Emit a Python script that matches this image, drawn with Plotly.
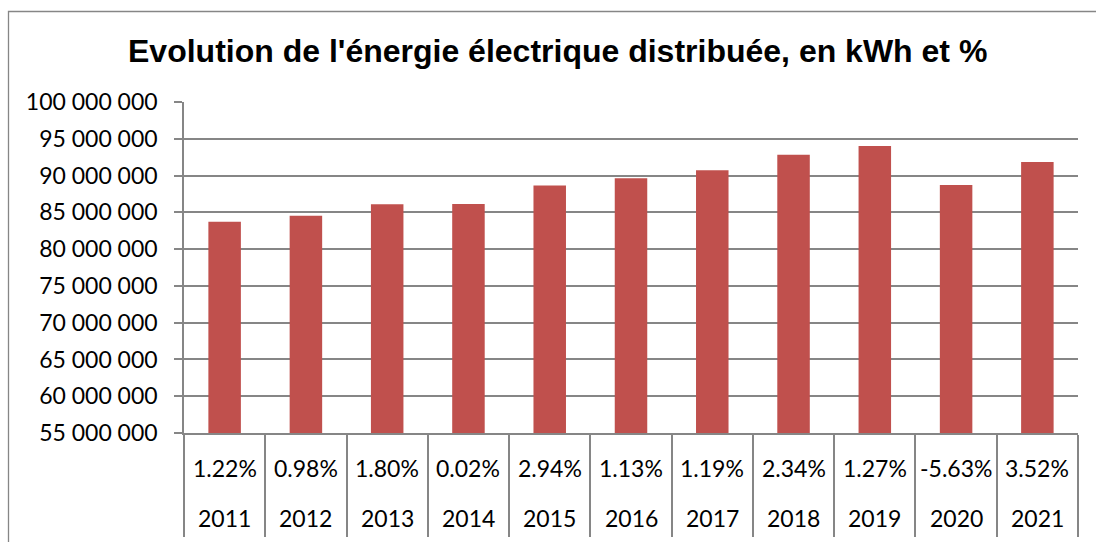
import plotly.graph_objects as go

years = ["2011", "2012", "2013", "2014", "2015", "2016", "2017", "2018", "2019", "2020", "2021"]
energy_kwh = [83720000, 84540000, 86110000, 86130000, 88640000, 89640000,
              90710000, 92830000, 94010000, 88720000, 91840000]
growth_pct = ["1.22%", "0.98%", "1.80%", "0.02%", "2.94%", "1.13%",
              "1.19%", "2.34%", "1.27%", "-5.63%", "3.52%"]
y_ticks = [55000000, 60000000, 65000000, 70000000, 75000000, 80000000,
           85000000, 90000000, 95000000, 100000000]

W, H = 1096, 542
L, R, T, B = 184, 1078, 102, 433
pw, ph = R - L, B - T
GRAY = "#868686"
LABEL_FONT = dict(family="Lato, 'Open Sans', sans-serif", size=23, color="black")

def py(p):
    return (B - p) / ph

def px(p):
    return (p - L) / pw

xs = list(range(len(years)))

fig = go.Figure()
fig.add_trace(go.Bar(x=xs, y=energy_kwh, width=0.4,
                     marker=dict(color="#C0504D", line=dict(width=0))))

annotations = []
for i, (yr, pc) in enumerate(zip(years, growth_pct)):
    annotations.append(dict(x=i, xref="x", y=py(468), yref="paper", text=pc,
                            showarrow=False, xanchor="center", yanchor="middle",
                            font=LABEL_FONT))
    annotations.append(dict(x=i, xref="x", y=py(518), yref="paper", text=yr,
                            showarrow=False, xanchor="center", yanchor="middle",
                            font=LABEL_FONT))

annotations.append(dict(x=px(557.5), xref="paper", y=py(51), yref="paper",
                        text="<b>Evolution de l'énergie électrique distribuée, en kWh et %</b>",
                        showarrow=False, xanchor="center", yanchor="middle",
                        font=dict(family="'Liberation Sans', Arial, sans-serif", size=32, color="black")))

fig.update_layout(
    width=W, height=H,
    margin=dict(l=L, r=W - R, t=T, b=H - B, pad=0, autoexpand=False),
    paper_bgcolor="white", plot_bgcolor="white",
    showlegend=False,
    separators=". ",
    annotations=annotations,
    shapes=[dict(type="rect", xref="paper", yref="paper",
                 x0=px(8.5), x1=px(1110), y0=py(570), y1=py(11.5),
                 line=dict(color=GRAY, width=1.3), fillcolor="rgba(0,0,0,0)", layer="below")],
    xaxis=dict(range=[-0.5, len(years) - 0.5], showgrid=False, zeroline=False,
               showline=True, linecolor=GRAY, linewidth=1.5, automargin=False,
               tickmode="array", tickvals=[i - 0.5 for i in range(len(years) + 1)],
               ticktext=[""] * (len(years) + 1), ticks="outside", ticklen=102,
               tickcolor=GRAY, tickwidth=1.5, showticklabels=False),
    yaxis=dict(range=[55000000, 100000000], tickmode="array", tickvals=y_ticks,
               tickformat=",d", showgrid=True, gridcolor=GRAY, gridwidth=1.5,
               zeroline=False, showline=True, linecolor=GRAY, linewidth=1.5,
               automargin=False,
               ticks="outside", ticklen=8, tickcolor=GRAY, tickwidth=1.5,
               tickfont=LABEL_FONT, ticklabelstandoff=12),
)

fig.write_html("out.html", config={"displayModeBar": False},
               post_script="document.body.style.margin='0';document.body.style.padding='0';")
